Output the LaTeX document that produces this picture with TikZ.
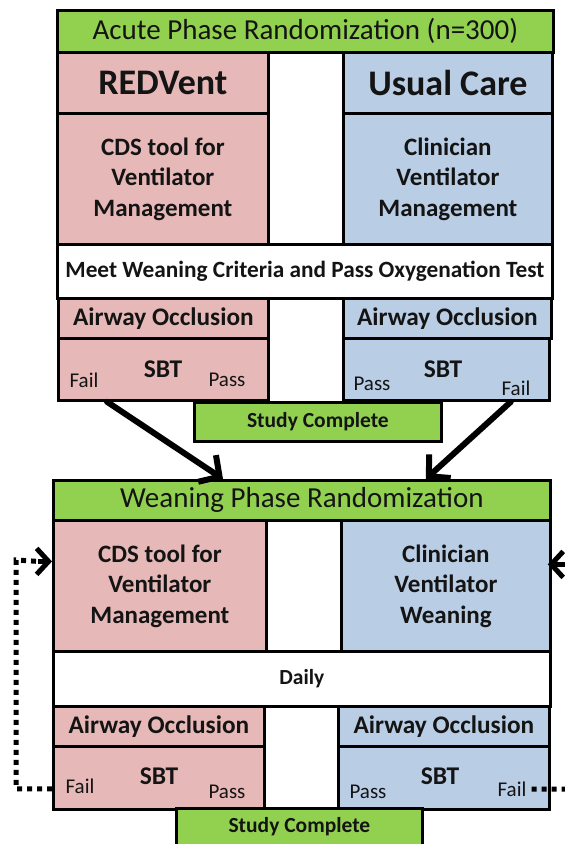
\documentclass[tikz,border=0pt]{standalone}
\usepackage{fontspec}
\setmainfont{Carlito}
\usetikzlibrary{arrows.meta}

\definecolor{grn}{RGB}{146,208,80}
\definecolor{pnk}{RGB}{230,185,184}
\definecolor{blu}{RGB}{185,205,229}
\definecolor{ink}{RGB}{20,20,20}

\tikzset{
  blk/.style={draw=black, line width=2.8pt, inner sep=0pt, align=center,
    anchor=north west, text=ink},
  greenblk/.style={blk, fill=grn},
  pinkblk/.style={blk, fill=pnk},
  blueblk/.style={blk, fill=blu},
  whiteblk/.style={blk, fill=white},
  titletxt/.style={font=\fontsize{29}{33}\selectfont},
  headtxt/.style={font=\bfseries\fontsize{36}{40}\selectfont},
  bodytxt/.style={font=\bfseries\fontsize{25}{30.5}\selectfont},
  meettxt/.style={font=\bfseries\fontsize{23.3}{27}\selectfont},
  subtxt/.style={font=\bfseries\fontsize{25.3}{28}\selectfont},
  donetxt/.style={font=\bfseries\fontsize{21.5}{25}\selectfont},
  pftxt/.style={font=\fontsize{21}{25}\selectfont, text=ink, inner sep=0pt},
  sbttxt/.style={font=\bfseries\fontsize{25.5}{28}\selectfont, text=ink, inner sep=0pt},
  flowarrow/.style={line width=6pt, line cap=round,
    -{Straight Barb[length=15pt,width=32pt,line width=6pt]}},
  loopline/.style={line width=5pt, dash pattern=on 5pt off 5pt},
  loophead/.style={line width=5pt, -{Straight Barb[length=12pt,width=26pt,line width=5pt]}}
}

\begin{document}
\begin{tikzpicture}[x=1pt, y=-1pt]
\useasboundingbox (0,0) rectangle (565,844);
\clip (0,0) rectangle (565,844);
\fill[white] (0,0) rectangle (565,844);

% ---- acute phase ----
\node[greenblk, titletxt, minimum width=496pt, minimum height=42pt] (acute) at (56,9)
  {Acute Phase Randomization (n=300)};
\node[pinkblk, headtxt, minimum width=211pt, minimum height=61pt] (redvent) at (56,51) {REDVent};
\node[blueblk, headtxt, minimum width=209pt, minimum height=61pt] (usual) at (342,51) {Usual Care};
\node[pinkblk, bodytxt, minimum width=211pt, minimum height=131pt] (cdsA) at (56,112)
  {CDS tool for\\Ventilator\\Management};
\node[blueblk, bodytxt, minimum width=209pt, minimum height=131pt] (clinA) at (342,112)
  {Clinician\\Ventilator\\Management};
\node[whiteblk, meettxt, minimum width=495pt, minimum height=54pt] (meet) at (56,243)
  {Meet Weaning Criteria and Pass Oxygenation Test};
\node[pinkblk, subtxt, minimum width=210pt, minimum height=40pt] (awAl) at (57,297) {Airway Occlusion};
\node[blueblk, subtxt, minimum width=208pt, minimum height=40pt] (awAr) at (342,297) {Airway Occlusion};
\node[pinkblk, minimum width=210pt, minimum height=62pt] (sbtAl) at (57,337) {};
\node[blueblk, minimum width=206pt, minimum height=62pt] (sbtAr) at (342,337) {};
\node[sbttxt] (sbtAlt) at (163,369) {SBT};
\node[pftxt] (failAl) at (84,380) {Fail};
\node[pftxt] (passAl) at (227,380) {Pass};
\node[sbttxt] (sbtArt) at (443,369) {SBT};
\node[pftxt] (passAr) at (372,384) {Pass};
\node[pftxt] (failAr) at (516,388) {Fail};
\node[greenblk, donetxt, minimum width=247pt, minimum height=39pt] (doneA) at (193,401) {Study Complete};

% ---- weaning phase ----
\node[greenblk, titletxt, minimum width=497pt, minimum height=40pt] (wean) at (52,479)
  {Weaning Phase Randomization};
\node[pinkblk, bodytxt, minimum width=213pt, minimum height=131pt] (cdsB) at (52,519)
  {CDS tool for\\Ventilator\\Management};
\node[blueblk, bodytxt, minimum width=209pt, minimum height=131pt] (clinB) at (340,519)
  {Clinician\\Ventilator\\Weaning};
\node[whiteblk, donetxt, minimum width=497pt, minimum height=55pt] (daily) at (52,650) {Daily};
\node[pinkblk, subtxt, minimum width=211pt, minimum height=40pt] (awBl) at (52,705) {Airway Occlusion};
\node[blueblk, subtxt, minimum width=211pt, minimum height=40pt] (awBr) at (337,705) {Airway Occlusion};
\node[pinkblk, minimum width=211pt, minimum height=63pt] (sbtBl) at (52,745) {};
\node[blueblk, minimum width=211pt, minimum height=63pt] (sbtBr) at (337,745) {};
\node[sbttxt] (sbtBlt) at (159,776) {SBT};
\node[pftxt] (failBl) at (80,786) {Fail};
\node[pftxt] (passBl) at (227,792) {Pass};
\node[sbttxt] (sbtBrt) at (440,776) {SBT};
\node[pftxt] (passBr) at (368,792) {Pass};
\node[pftxt] (failBr) at (512,789) {Fail};
\node[greenblk, donetxt, minimum width=246pt, minimum height=37pt] (doneB) at (175,807) {Study Complete};

% ---- failed SBT leads to weaning randomization ----
\draw[flowarrow] ([xshift=50pt]sbtAl.south west) -- ([xshift=171pt]wean.north west);
\draw[flowarrow] ([xshift=-40pt]sbtAr.south east) -- ([xshift=-126pt]wean.north east);

% ---- daily loops back after a failed SBT ----
\coordinate (loopL) at (16,560);
\coordinate (loopR) at (590,563);
\draw[loopline] ([yshift=-11pt]sbtBl.west) -| (loopL) -- ([yshift=24.5pt, xshift=-14pt]cdsB.west);
\draw[loophead] ([yshift=24.5pt, xshift=-14pt]cdsB.west) -- ([yshift=24.5pt]cdsB.west);
\draw[loopline] ([xshift=5pt]failBr.east) -| (loopR) -- ([yshift=21.5pt, xshift=16pt]clinB.east);
\draw[loophead] ([yshift=21.5pt, xshift=16pt]clinB.east) -- ([yshift=21.5pt, xshift=-4pt]clinB.east);
\end{tikzpicture}
\end{document}
